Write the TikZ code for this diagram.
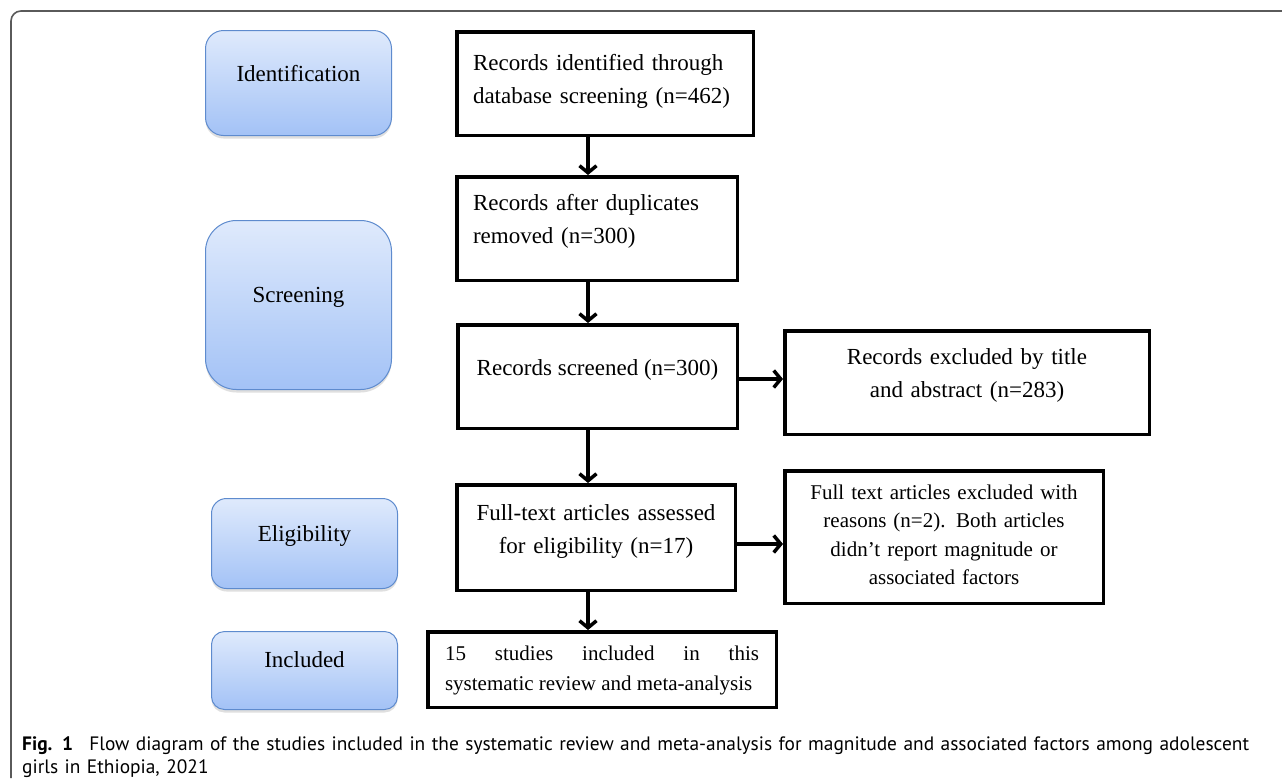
\documentclass[tikz,border=0pt]{standalone}
\usepackage{fontspec}
\setmainfont{Liberation Serif}
\newfontfamily\capfont{PT Sans}
\usetikzlibrary{arrows.meta,shadows}

\definecolor{stageblue}{RGB}{94,139,206}
\definecolor{stagetop}{RGB}{223,234,252}
\definecolor{stagebot}{RGB}{163,194,246}
\definecolor{framegray}{RGB}{90,90,90}

\tikzset{
  stage/.style={draw=stageblue, line width=1pt, top color=stagetop, bottom color=stagebot,
    minimum width=186pt, text height=16pt, font=\fontsize{23}{33}\selectfont,
    drop shadow={shadow xshift=0pt, shadow yshift=-3pt, opacity=.25}},
  box/.style={draw, line width=3.5pt, fill=white, inner sep=4pt, text height=16pt,
    font=\fontsize{23}{33}\selectfont},
  small/.style={font=\fontsize{21}{28.5}\selectfont, text height=15pt},
  flow/.style={line width=3.5pt, -{Straight Barb[length=7pt,width=17pt]}}
}

\begin{document}
\begin{tikzpicture}[x=1pt,y=-1pt]
\fill[white] (0,0) rectangle (1282,782);
\useasboundingbox (0,0) rectangle (1282,782);
\draw[framegray, line width=1.6pt, rounded corners=10pt] (11,778) -- (11,11) -- (1290,11);

% stages
\node[stage, minimum height=105pt, rounded corners=18pt, text depth=20pt] (ident) at (298.5,83) {Identification};
\node[stage, minimum height=169pt, rounded corners=31pt, text depth=22pt] (screen) at (298.5,305) {Screening};
\node[stage, minimum height=90pt, rounded corners=15pt, text depth=21pt] (elig) at (304.5,543.5) {Eligibility};
\node[stage, minimum height=78pt, rounded corners=13pt, text depth=23pt] (incl) at (304.5,670.5) {Included};

% records
\node[box, minimum width=296.5pt, minimum height=103.5pt, text width=264pt, align=left, text depth=43pt] (b1) at (605,83.5)
  {Records identified through\\database screening (n=462)};
\node[box, minimum width=280.5pt, minimum height=103.5pt, text width=248pt, align=left, text depth=53pt] (b2) at (597,228.5)
  {Records after duplicates\\removed (n=300)};
\node[box, minimum width=279.5pt, minimum height=103.5pt, text depth=19pt] (b3) at (597.5,376.5)
  {Records screened (n=300)};
\node[box, minimum width=364.5pt, minimum height=103.5pt, text width=330pt, align=center, text depth=52pt] (b4) at (967,382.5)
  {Records excluded by title\\and abstract (n=283)};
\node[box, minimum width=278.5pt, minimum height=105.5pt, text width=260pt, align=center, text depth=51pt] (b5) at (596,537.5)
  {Full-text articles assessed\\for eligibility (n=17)};
\node[box, small, minimum width=318.5pt, minimum height=132.5pt, text width=300pt, align=center, text depth=91pt] (b6) at (944,537)
  {Full text articles excluded with\\reasons (n=2). Both articles\\didn’t report magnitude or\\associated factors};
\node[box, small, font=\fontsize{21}{30}\selectfont, minimum width=348.5pt, minimum height=75.5pt, text width=314pt, align=justify, text depth=34pt] (b7) at (602,669.5)
  {15 studies included in this\linebreak systematic review and meta-analysis};

% arrows
\coordinate (spine) at (588,0);
\coordinate (lvl1) at (0,379);
\coordinate (lvl2) at (0,544);
\draw[flow] (b1.south -| spine) -- (b2.north -| spine);
\draw[flow] (b2.south -| spine) -- (b3.north -| spine);
\draw[flow] (b3.south -| spine) -- (b5.north -| spine);
\draw[flow] (b5.south -| spine) -- (b7.north -| spine);
\draw[flow] (b3.east |- lvl1) -- (b4.west |- lvl1);
\draw[flow] (b5.east |- lvl2) -- (b6.west |- lvl2);

% caption
\node[anchor=base west, inner sep=0pt, text width=1260pt, align=left, font=\capfont\fontsize{19.4}{23}\selectfont] (cap) at (22,750)
  {\textbf{Fig. 1}\hspace{0.5em} Flow diagram of the studies included in the systematic review and meta-analysis for magnitude and associated factors among adolescent\\girls in Ethiopia, 2021};
\end{tikzpicture}
\end{document}
